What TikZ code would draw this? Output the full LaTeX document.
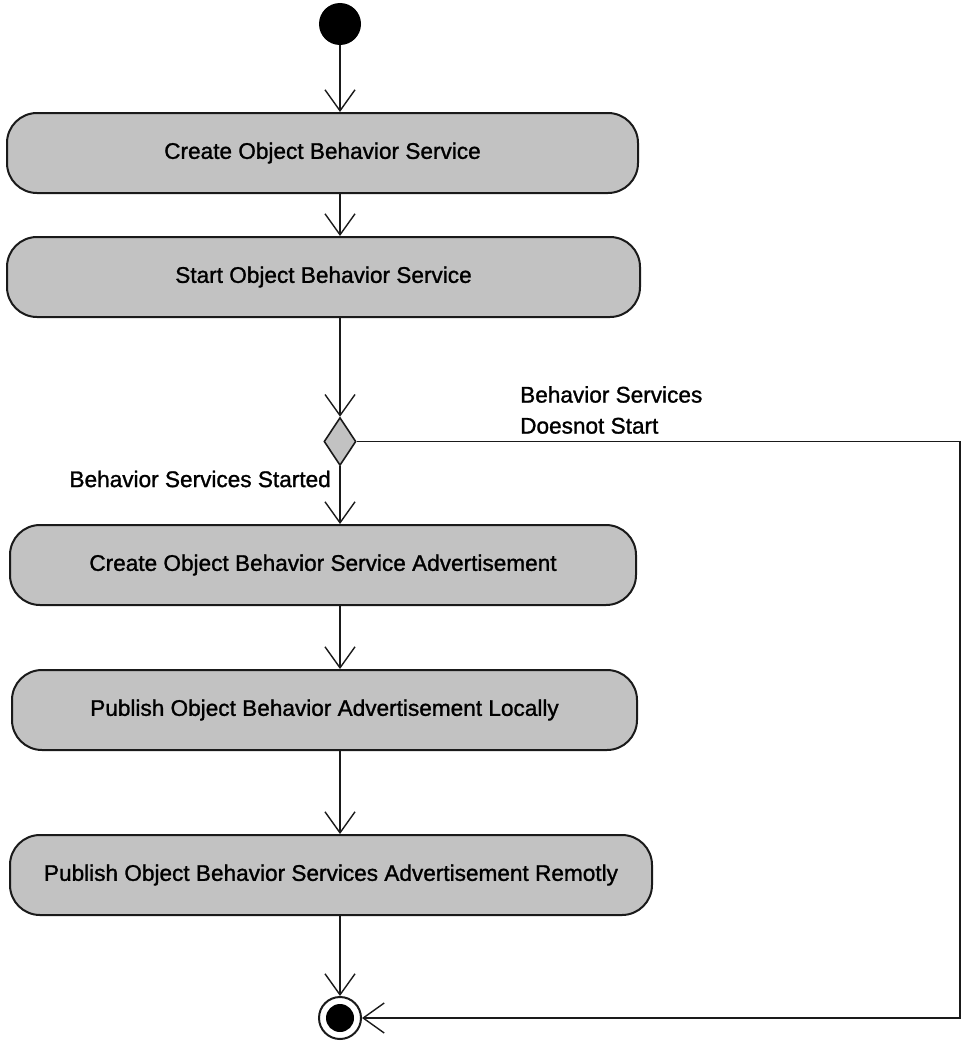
\documentclass[tikz,border=0pt]{standalone}
\usepackage{fontspec}
\setmainfont{Liberation Sans}[FakeBold=1.2]
\usetikzlibrary{arrows.meta,shapes.geometric}
\definecolor{actfill}{HTML}{C2C2C2}
\definecolor{edge}{HTML}{1A1A1A}
\begin{document}
\begin{tikzpicture}[x=1pt,y=-1pt,
  actbox/.style={draw=edge,fill=actfill,line width=2pt,rounded corners=30pt,
    minimum height=80pt,inner sep=0pt,font=\fontsize{22.6}{27}\selectfont},
  flow/.style={draw=edge,line width=1.4pt,
    -{Straight Barb[length=21pt,width=30pt,line width=1.4pt]}},
  lbl/.style={font=\fontsize{22.6}{31}\selectfont,inner sep=0pt,align=left},
  initstate/.style={circle,fill=black,minimum size=42pt,inner sep=0pt},
  decision/.style={diamond,draw=edge,fill=actfill,line width=1.6pt,
    minimum width=32pt,minimum height=48pt,inner sep=0pt}]
\useasboundingbox (0,0) rectangle (965,1041);

% initial and final states
\node[initstate] (start) at (340,24) {};
\node[circle,draw=edge,line width=2pt,fill=white,minimum size=42pt,inner sep=0pt] (final) at (340,1018) {};
\node[circle,fill=black,minimum size=28pt,inner sep=0pt] at (final) {};

% activities
\node[actbox,minimum width=631pt] (a1) at (322.5,153) {Create Object Behavior Service};
\node[actbox,minimum width=633pt] (a2) at (323.5,277) {Start Object Behavior Service};
\node[decision] (dec) at (340,441.5) {};
\node[actbox,minimum width=626pt] (a3) at (323,565) {Create Object Behavior Service Advertisement};
\node[actbox,minimum width=625pt] (a4) at (324.5,710) {Publish Object Behavior Advertisement Locally};
\node[actbox,minimum width=642pt] (a5) at (331,875) {Publish Object Behavior Services Advertisement Remotly};

% guard labels
\node[lbl,anchor=north west] (gfail) at (520,386) {Behavior Services\\Doesnot Start};
\node[lbl,anchor=east] (gok) at (331,479) {Behavior Services Started};

\coordinate (corner1) at (960,441.5);
\coordinate (corner2) at (960,1018);

% control flow
\draw[flow] (start) -- (start |- a1.north);
\draw[flow] (a1.south -| start) -- (start |- a2.north);
\draw[flow] (a2.south -| start) -- (dec.north);
\draw[flow] (dec.south) -- (start |- a3.north);
\draw[flow] (a3.south -| start) -- (start |- a4.north);
\draw[flow] (a4.south -| start) -- (start |- a5.north);
\draw[flow] (a5.south -| start) -- (final.north);
\draw[flow] (dec.east) -- (corner1) -- (corner2) -- (final.east);
\end{tikzpicture}
\end{document}
